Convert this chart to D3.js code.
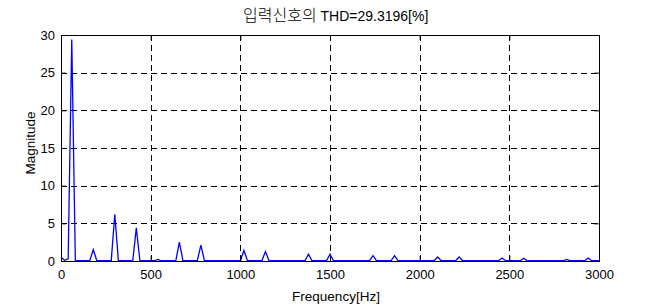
<!DOCTYPE html>
<html><head><meta charset="utf-8">
<script src="https://cdn.jsdelivr.net/npm/d3@7"></script>
<style>body{margin:0;background:#fff}svg{display:block}</style>
</head><body>
<script>
// FFT bin spacing (Hz) and magnitudes per bin (0..3000 Hz)
const binHz = 20;
const magnitudes = [
0.5,0.1,0.3,29.4,0.03,0.03,0.03,0.03,0.03,1.5, // 0-180
0.03,0.03,0.03,0.03,0.03,6.2,0.03,0.03,0.03,0.03, // 200-380
0.03,4.4,0.03,0.03,0.03,0.03,0.03,0.2,0.03,0.03, // 400-580
0.03,0.03,0.03,2.5,0.03,0.03,0.03,0.03,0.03,2.1, // 600-780
0.03,0.03,0.03,0.03,0.03,0.03,0.03,0.03,0.03,0.03, // 800-980
0.03,1.4,0.03,0.03,0.03,0.03,0.03,1.25,0.03,0.03, // 1000-1180
0.03,0.03,0.03,0.03,0.03,0.03,0.03,0.03,0.03,0.9, // 1200-1380
0.03,0.03,0.03,0.03,0.03,0.9,0.03,0.03,0.03,0.03, // 1400-1580
0.03,0.03,0.03,0.03,0.03,0.03,0.03,0.7,0.03,0.03, // 1600-1780
0.03,0.03,0.03,0.7,0.03,0.03,0.03,0.03,0.03,0.03, // 1800-1980
0.03,0.03,0.03,0.03,0.03,0.53,0.03,0.03,0.03,0.03, // 2000-2180
0.03,0.53,0.03,0.03,0.03,0.03,0.03,0.03,0.03,0.03, // 2200-2380
0.03,0.03,0.03,0.4,0.03,0.03,0.03,0.03,0.03,0.36, // 2400-2580
0.03,0.03,0.03,0.03,0.03,0.03,0.03,0.03,0.03,0.03, // 2600-2780
0.03,0.22,0.03,0.03,0.03,0.03,0.03,0.4,0.03,0.03, // 2800-2980
0.03 // 3000
];
const xTicks = [0,500,1000,1500,2000,2500,3000];
const yTicks = [0,5,10,15,20,25,30];
const titleKo = "입력신호의";
const titleEn = "THD=29.3196[%]";
const xLabel = "Frequency[Hz]";
const yLabel = "Magnitude";

const W = 650, H = 306;
const m = {l:61, r:51, t:35, b:45};
const iw = W - m.l - m.r, ih = H - m.t - m.b;
const svg = d3.select("body").append("svg").attr("width",W).attr("height",H);
const g = svg.append("g").attr("transform",`translate(${m.l},${m.t})`);
const x = d3.scaleLinear().domain([0,3000]).range([0,iw]);
const y = d3.scaleLinear().domain([0,30]).range([ih,0]);
const font = "'Liberation Sans', Arial, sans-serif";

// grid
g.selectAll(".gx").data(xTicks.slice(1,-1)).enter().append("line")
 .attr("x1",d=>Math.round(x(d))+0.5).attr("x2",d=>Math.round(x(d))+0.5).attr("y1",0).attr("y2",ih)
 .attr("stroke","#000").attr("stroke-dasharray","6,4").attr("stroke-width",1);
g.selectAll(".gy").data(yTicks.slice(1,-1)).enter().append("line")
 .attr("y1",d=>Math.round(y(d))+0.5).attr("y2",d=>Math.round(y(d))+0.5).attr("x1",0).attr("x2",iw)
 .attr("stroke","#000").attr("stroke-dasharray","6,4").attr("stroke-width",1);

// data line
const data = magnitudes.map((v,i)=>[i*binHz, v]);
g.append("path").datum(data)
 .attr("d", d3.line().x(d=>x(d[0])).y(d=>y(d[1])))
 .attr("fill","none").attr("stroke","#0000ff").attr("stroke-width",1.3);

// axes
g.append("g").attr("transform",`translate(0,${ih})`)
 .call(d3.axisBottom(x).tickValues(xTicks).tickSize(-5).tickPadding(9).tickFormat(d3.format("d")));
g.append("g")
 .call(d3.axisLeft(y).tickValues(yTicks).tickSize(-5).tickPadding(6).tickFormat(d3.format("d")));
g.append("g").call(d3.axisTop(x).tickValues(xTicks).tickSize(-5).tickFormat(""));
g.append("g").attr("transform",`translate(${iw},0)`).call(d3.axisRight(y).tickValues(yTicks).tickSize(-5).tickFormat(""));
g.selectAll(".domain").attr("stroke","#000");
g.selectAll(".tick line").attr("stroke","#000");
g.selectAll(".tick text").attr("font-family",font).attr("font-size",13).attr("fill","#000");
g.append("rect").attr("x",0.5).attr("y",0.5).attr("width",iw).attr("height",ih)
 .attr("fill","none").attr("stroke","#000");

// labels
const t = svg.append("text").attr("x", 243).attr("y",21).attr("text-anchor","start");
t.append("tspan").text(titleKo).attr("font-family","'Noto Sans CJK KR', sans-serif").attr("font-size",16).attr("font-weight",300);
t.append("tspan").text(" "+titleEn).attr("font-family",font).attr("font-size",14);
svg.append("text").attr("x", 336).attr("y",301).attr("text-anchor","middle")
 .attr("font-family",font).attr("font-size",13.5).text(xLabel);
svg.append("text").attr("transform",`translate(35,143) rotate(-90)`).attr("text-anchor","middle")
 .attr("font-family",font).attr("font-size",13.5).text(yLabel);
</script>
</body></html>
